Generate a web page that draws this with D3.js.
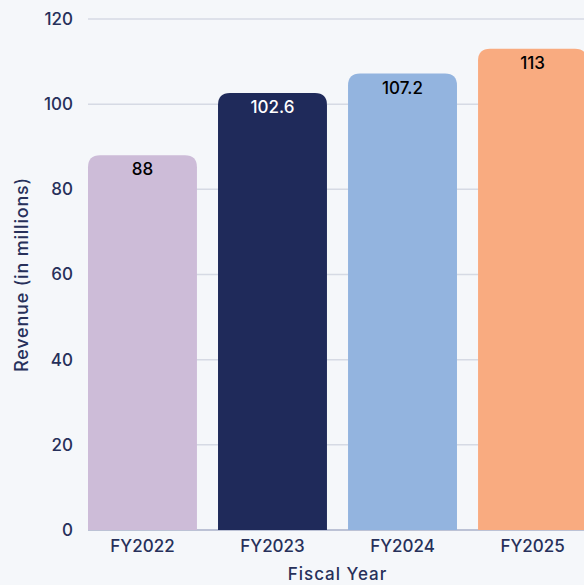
<!DOCTYPE html>
<html>
<head>
<meta charset="utf-8">
<script src="https://cdn.jsdelivr.net/npm/d3@7"></script>
<style>
  html, body { margin: 0; padding: 0; background: #f5f7fa; overflow: hidden; }
  svg { display: block; font-family: Inter, "Open Sans", sans-serif; }
</style>
</head>
<body>
<svg width="584" height="585"></svg>
<script>
const years   = ["FY2022", "FY2023", "FY2024", "FY2025"];
const revenue = [88, 102.6, 107.2, 113];
const colors  = ["#cdbcd8", "#1f2a5a", "#93b4df", "#f9ab80"];
const labelColors = ["#000000", "#ffffff", "#000000", "#000000"];
const yTicks  = [0, 20, 40, 60, 80, 100, 120];

const data = years.map((y, i) => ({ year: y, value: revenue[i], color: colors[i], label: labelColors[i] }));

const svg    = d3.select("svg");
const margin = { top: 19, left: 88, bottom: 55 };
const height = 585;
const plotBottom = height - margin.bottom;
const plotRight  = 587;

const x = d3.scaleBand()
    .domain(years)
    .range([margin.left, plotRight])
    .paddingInner(0.162)
    .paddingOuter(0);

const y = d3.scaleLinear()
    .domain([0, 120])
    .range([plotBottom, margin.top]);

// gridlines
svg.append("g")
    .selectAll("line")
    .data(yTicks.filter(d => d > 0))
    .enter().append("line")
        .attr("x1", margin.left)
        .attr("x2", 584)
        .attr("y1", d => y(d))
        .attr("y2", d => y(d))
        .attr("stroke", "#d6dae4")
        .attr("stroke-width", 1.5);

// baseline
svg.append("line")
    .attr("x1", margin.left)
    .attr("x2", 584)
    .attr("y1", y(0))
    .attr("y2", y(0))
    .attr("stroke", "#a9b0c8")
    .attr("stroke-width", 1.5);

// y axis
const yAxis = svg.append("g")
    .attr("transform", "translate(" + margin.left + ",0)")
    .call(d3.axisLeft(y).tickValues(yTicks).tickSize(0).tickPadding(15));
yAxis.select(".domain").remove();
yAxis.selectAll("text")
    .attr("fill", "#27305a")
    .style("font-size", "17px")
    .style("font-weight", "500")
    .style("font-family", "Inter, sans-serif");

// x axis
const xAxis = svg.append("g")
    .attr("transform", "translate(0," + plotBottom + ")")
    .call(d3.axisBottom(x).tickSize(0).tickPadding(10));
xAxis.select(".domain").remove();
xAxis.selectAll("text")
    .attr("fill", "#27305a")
    .style("font-size", "17px")
    .style("font-weight", "500")
    .style("font-family", "Inter, sans-serif");

// bars with rounded tops
const r = 12;
function barPath(d) {
    const x0 = x(d.year), w = x.bandwidth();
    const y0 = y(d.value), y1 = y(0);
    return "M" + x0 + "," + y1 +
        "V" + (y0 + r) +
        "Q" + x0 + "," + y0 + " " + (x0 + r) + "," + y0 +
        "H" + (x0 + w - r) +
        "Q" + (x0 + w) + "," + y0 + " " + (x0 + w) + "," + (y0 + r) +
        "V" + y1 + "Z";
}

const bar = svg.append("g")
    .selectAll("g")
    .data(data)
    .enter().append("g");

bar.append("path")
    .attr("d", barPath)
    .attr("fill", d => d.color);

bar.append("text")
    .attr("x", d => x(d.year) + x.bandwidth() / 2)
    .attr("y", d => y(d.value) + 20)
    .attr("text-anchor", "middle")
    .attr("fill", d => d.label)
    .style("font-size", "17px")
    .style("font-weight", "500")
    .text(d => d.value);

// axis titles
svg.append("text")
    .attr("x", (margin.left + plotRight) / 2)
    .attr("y", 580)
    .attr("text-anchor", "middle")
    .attr("fill", "#27305a")
    .style("font-size", "17px")
    .style("font-weight", "500")
    .style("letter-spacing", "1px")
    .text("Fiscal Year");

svg.append("text")
    .attr("transform", "translate(28," + (margin.top + plotBottom) / 2 + ") rotate(-90)")
    .attr("text-anchor", "middle")
    .attr("fill", "#27305a")
    .style("font-size", "18px")
    .style("font-weight", "500")
    .style("letter-spacing", "0.8px")
    .text("Revenue (in millions)");
</script>
</body>
</html>
